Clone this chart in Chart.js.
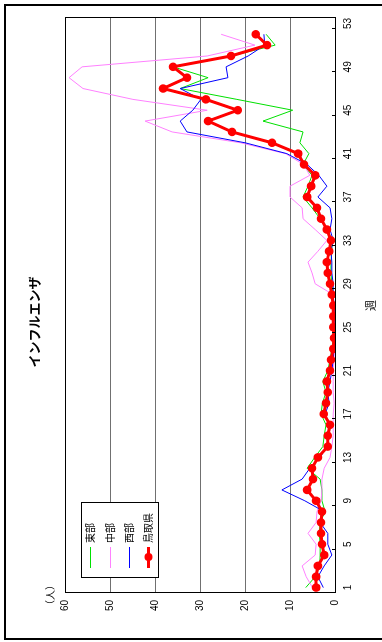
<!DOCTYPE html>
<html>
<head>
<meta charset="utf-8">
<script src="https://cdn.jsdelivr.net/npm/chart.js@4"></script>
<style>
  html, body { margin: 0; padding: 0; background: #fff; overflow: hidden; width: 382px; height: 642px; }
  #frame { position: absolute; left: 4px; top: 4px; width: 400px; height: 632px; border: 2px solid #000; }
  #wrap { position: absolute; left: 0; top: 0; width: 642px; height: 382px;
          transform-origin: 0 0; transform: translate(0px, 642px) rotate(-90deg); }
</style>
</head>
<body>
<div id="frame"></div>
<div id="wrap"><canvas id="myChart" width="642" height="382"></canvas></div>
<script>
// weeks 1..53 (no data reported for week 53)
const weeks = []
for (let i = 1; i <= 53; i++) weeks.push(String(i))

const eastValues = [6.5,4.4,3.4,3.3,3.3,3.5,3.3,2.2,2.9,2.9,3.3,6.2,4.5,2.7,2.4,2.0,3.1,2.8,2.0,2.7,
  1.6,1.1,0.7,0.4,0.4,0.4,0.4,0.4,0.7,0.9,0.9,0.7,0.7,1.6,3.3,5.1,7.1,6.0,5.1,7.1,
  5.8,7.8,7.1,16.0,9.4,21.8,34.4,28.2,36.0,23.1,13.3,15.3]
const centralValues = [5.0,6.4,7.3,4.4,4.2,6.0,4.2,4.0,3.1,2.9,2.9,2.4,1.1,0.7,0.4,0.4,0.4,0.2,0.4,0.4,
  0.4,0.2,0.2,0.2,0.2,0.2,0.2,0.4,4.4,5.1,6.0,3.8,1.8,4.4,7.1,7.3,10.0,10.0,5.6,7.0,
  11.0,21.0,36.2,42.2,28.4,44.9,56.0,59.1,56.2,28.4,17.8,25.3]
const westValues = [2.6,3.8,2.4,0.7,1.6,1.6,3.3,2.4,6.7,11.8,7.3,5.6,3.3,1.8,1.3,1.1,2.2,1.3,1.6,1.1,
  0.7,0.4,0.2,0.2,0.2,0.2,0.2,0.4,0.4,0.7,0.7,0.9,0.4,1.1,0.7,1.1,3.8,1.8,3.6,6.2,
  10.7,20.0,32.9,34.4,31.6,29.8,34.4,23.8,24.2,19.3,15.6,15.8]
const prefValues = [4.2,4.2,3.8,2.4,2.9,3.1,3.1,2.9,4.2,6.2,4.9,5.1,3.8,1.6,1.6,1.1,2.5,2.0,1.6,1.8,
  1.1,0.9,0.4,0.2,0.4,0.4,0.4,0.7,1.1,1.6,1.8,1.3,0.9,1.8,3.1,4.0,6.2,5.3,4.4,6.9,
  8.2,14.0,22.9,28.2,21.6,28.7,38.2,32.9,36.0,23.1,15.1,17.6]
const yTicks = [0,10,20,30,40,50,60]

const seriesNames = ['東部','中部','西部','鳥取県']
const seriesColors = ['#00e000','#ff80ff','#0000ff','#ff0000']

const decor = {
  id: 'decor',
  afterDraw(chart) {
    const ctx = chart.ctx
    const area = chart.chartArea
    const xs = chart.scales.x
    ctx.save()
    // plot frame
    ctx.strokeStyle = '#000'
    ctx.lineWidth = 1
    ctx.strokeRect(Math.round(area.left) + 0.5, Math.round(area.top) + 0.5,
      Math.round(area.right - area.left), Math.round(area.bottom - area.top))
    // small inward ticks at category boundaries
    const half = (xs.getPixelForValue(1) - xs.getPixelForValue(0)) / 2
    for (let i = 0; i < weeks.length; i += 4) {
      const px = Math.round(xs.getPixelForValue(i) - half) + 0.5
      ctx.beginPath()
      ctx.moveTo(px, area.bottom)
      ctx.lineTo(px, area.bottom - 3)
      ctx.stroke()
    }
    // title and unit
    ctx.fillStyle = '#000'
    ctx.textAlign = 'center'
    ctx.textBaseline = 'middle'
    ctx.font = 'bold 13px "Noto Sans CJK JP"'
    ctx.fillText('インフルエンザ', 320, 34)
    ctx.font = '10px "Noto Sans CJK JP"'
    ctx.fillText('（人）', 47, 50)
    // legend
    const bx = 64, by = 81, bw = 75, bh = 77
    ctx.fillStyle = '#fff'
    ctx.fillRect(bx, by, bw, bh)
    ctx.strokeRect(bx + 0.5, by + 0.5, bw, bh)
    const rows = [90, 110, 129, 148]
    ctx.textAlign = 'left'
    ctx.font = '10px "Noto Sans CJK JP"'
    for (let i = 0; i < seriesNames.length; i++) {
      const ry = rows[i] + 0.5
      ctx.strokeStyle = seriesColors[i]
      ctx.lineWidth = i === 3 ? 3 : 1
      ctx.beginPath()
      ctx.moveTo(74, ry)
      ctx.lineTo(95, ry)
      ctx.stroke()
      if (i === 3) {
        ctx.fillStyle = seriesColors[i]
        ctx.beginPath()
        ctx.arc(85, ry, 4, 0, Math.PI * 2)
        ctx.fill()
      }
      ctx.fillStyle = '#000'
      ctx.fillText(seriesNames[i], 99, ry)
    }
    ctx.restore()
  }
}

const data = {
  labels: weeks,
  datasets: [
    { label: seriesNames[3], data: prefValues, borderColor: seriesColors[3], backgroundColor: seriesColors[3],
      borderWidth: 3, pointRadius: 4.3, pointBorderWidth: 0, order: 0 },
    { label: seriesNames[2], data: westValues, borderColor: seriesColors[2], borderWidth: 1, pointRadius: 0, order: 1 },
    { label: seriesNames[1], data: centralValues, borderColor: seriesColors[1], borderWidth: 1, pointRadius: 0, order: 2 },
    { label: seriesNames[0], data: eastValues, borderColor: seriesColors[0], borderWidth: 1, pointRadius: 0, order: 3 }
  ]
}

const config = {
  type: 'line',
  data: data,
  options: {
    responsive: false,
    animation: false,
    devicePixelRatio: 1,
    layout: { padding: { top: 65, right: 18, left: 0, bottom: 5 } },
    plugins: { legend: { display: false }, tooltip: { enabled: false }, title: { display: false } },
    elements: { line: { tension: 0 } },
    scales: {
      x: {
        type: 'category',
        offset: true,
        grid: { display: false, drawTicks: false },
        border: { display: true, color: '#000', width: 1 },
        ticks: {
          autoSkip: false, maxRotation: 0, minRotation: 0, padding: 7, color: '#000',
          font: { family: '"Liberation Sans", Arial', size: 10 },
          callback: function(val, idx) { return idx % 4 === 0 ? weeks[idx] : '' }
        },
        title: { display: true, text: '週', color: '#000', font: { family: '"Noto Sans CJK JP"', size: 11 }, padding: { top: 4, bottom: 0 } },
        afterFit: function(scale) { scale.height = 42 }
      },
      y: {
        min: 0, max: 60,
        grid: { color: '#707070', lineWidth: 1, drawTicks: false },
        border: { display: true, color: '#000', width: 1 },
        ticks: {
          stepSize: 10, padding: 7, color: '#000',
          font: { family: '"Liberation Sans", Arial', size: 10 },
          callback: function(v) { return yTicks.includes(v) ? String(v) : '' }
        },
        afterFit: function(scale) { scale.width = 49 }
      }
    }
  },
  plugins: [decor]
}

const myChart = new Chart(document.getElementById('myChart'), config)
</script>
</body>
</html>
